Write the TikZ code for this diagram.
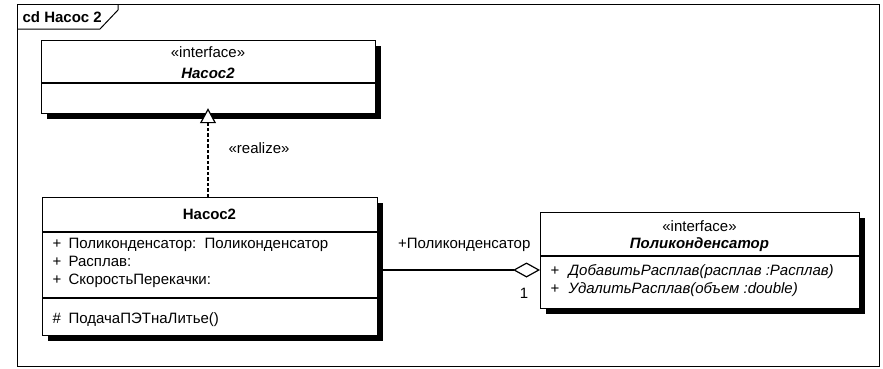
\documentclass[tikz,border=0pt]{standalone}
\usepackage{fontspec}
\setmainfont{Liberation Sans}
\usetikzlibrary{arrows.meta,shadows}
\begin{document}
\begin{tikzpicture}[x=1pt,y=-1pt,
  font=\fontsize{15}{17}\selectfont,
  line width=1.2pt,
  umlbox/.style={draw, fill=white, inner sep=0pt, anchor=north west,
    drop shadow={shadow xshift=5pt, shadow yshift=-5pt, fill=black, opacity=1}},
  txt/.style={anchor=base, inner sep=0pt},
  ltxt/.style={anchor=base west, inner sep=0pt},
  divider/.style={line width=1.2pt}]
\useasboundingbox (0,0) rectangle (883,368);
% frame
\draw[line width=1pt] (17,4) rectangle (879,366);
\draw[line width=1pt] (17,29) -- (100,29) -- (118,10) -- (118,4);
\node[ltxt, font=\fontsize{15}{17}\selectfont\bfseries] (title) at (22,22) {cd Насос 2};

% interface Nasos2
\node[umlbox, minimum width=334pt, minimum height=73pt] (ifn) at (41,40) {};
\draw[divider] (41,83) -- (375,83);
\node[txt] (ifnst) at (208,57) {«interface»};
\node[txt, font=\fontsize{15}{17}\selectfont\bfseries\itshape] (ifnname) at (208,78) {Насос2};

% class Nasos2
\node[umlbox, minimum width=335pt, minimum height=138pt] (cls) at (42,197) {};
\draw[divider] (42,232) -- (377,232);
\draw[divider] (42,298) -- (377,298);
\node[txt, font=\fontsize{15}{17}\selectfont\bfseries] (clsname) at (209.5,219) {Насос2};
\node[ltxt] (a1p) at (52,248) {+};
\node[ltxt] (a1) at (68,248) {Поликонденсатор:\ \ Поликонденсатор};
\node[ltxt] (a2p) at (52,266) {+};
\node[ltxt] (a2) at (68,266) {Расплав:};
\node[ltxt] (a3p) at (52,284) {+};
\node[ltxt] (a3) at (68,284) {СкоростьПерекачки:};
\node[ltxt] (o1p) at (52,323) {\#};
\node[ltxt] (o1) at (68,323) {ПодачаПЭТнаЛитье()};

% interface Polikondensator
\node[umlbox, minimum width=319pt, minimum height=96pt] (pol) at (540,212) {};
\draw[divider] (540,256) -- (859,256);
\node[txt] (polst) at (699.5,231) {«interface»};
\node[txt, font=\fontsize{15}{17}\selectfont\bfseries\itshape] (polname) at (699.5,248) {Поликонденсатор};
\node[ltxt] (p1p) at (550,275) {+};
\node[ltxt, font=\fontsize{15}{17}\selectfont\itshape] (p1) at (568,275) {ДобавитьРасплав(расплав :Расплав)};
\node[ltxt] (p2p) at (550,293) {+};
\node[ltxt, font=\fontsize{15}{17}\selectfont\itshape] (p2) at (568,293) {УдалитьРасплав(объем :double)};

% realization
\draw[dashed, dash pattern=on 3.5pt off 2pt, -{Triangle[open, length=15pt, width=16pt, fill=white]}, shorten >=-6pt]
  (cls.north -| 208,0) -- (ifn.south -| 208,0);
\node[ltxt] (real) at (228,153) {«realize»};

% association (aggregation)
\draw[{Diamond[open, length=27pt, width=15pt, fill=white]}-]
  (pol.west |- 0,270) -- (cls.east |- 0,270);
\node[anchor=base east, inner sep=0pt] (role) at (531,248) {+Поликонденсатор};
\node[txt] (mult) at (524,298) {1};
\end{tikzpicture}
\end{document}
